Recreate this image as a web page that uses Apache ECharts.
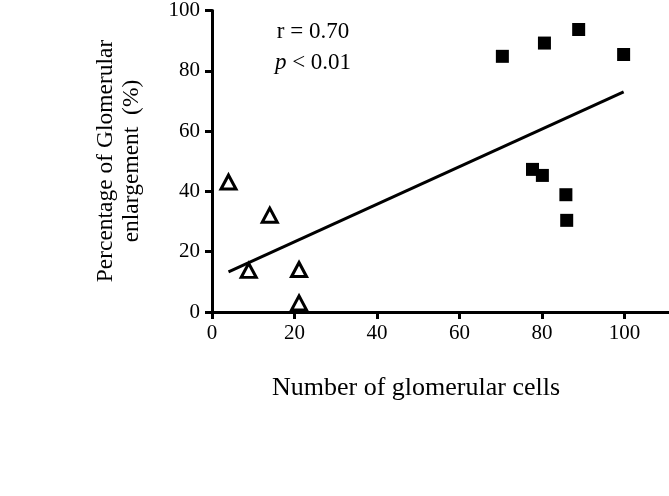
<!DOCTYPE html>
<html><head><meta charset="utf-8">
<script src="https://cdn.jsdelivr.net/npm/echarts@6/dist/echarts.min.js"></script>
<style>html,body{margin:0;padding:0;background:#fff}#c{width:669px;height:496px}</style>
</head><body><div id="c"></div>
<script>
var xTicks = [0, 20, 40, 60, 80, 100];
var yTicks = [0, 20, 40, 60, 80, 100];
var triangleX = [4.0, 8.9, 14.0, 21.1, 21.1];
var triangleY = [43.1, 13.8, 32.1, 14.1, 3.0];
var squareX = [70.4, 80.6, 88.9, 99.8, 77.7, 80.1, 85.8, 86.0];
var squareY = [84.8, 89.2, 93.7, 85.4, 47.3, 45.3, 38.9, 30.4];
var fitX = [4.0, 99.8];
var fitY = [13.3, 73.0];
var xTitle = 'Number of glomerular cells';
var yTitle = ['Percentage of Glomerular', 'enlargement  (%)'];

function zip(a, b) { return a.map(function (v, i) { return [v, b[i]]; }); }
var FONT = '"Liberation Serif", "Times New Roman", serif';
var chart = echarts.init(document.getElementById('c'), null, {renderer: 'canvas'});
chart.setOption({
  animation: false,
  backgroundColor: '#fff',
  grid: {left: 212, right: 0, top: 10, bottom: 184, containLabel: false},
  xAxis: {
    type: 'value', min: 0, max: 110.8,
    splitLine: {show: false},
    axisLine: {show: true, onZero: false, lineStyle: {color: '#000', width: 3}},
    axisTick: {show: true, length: 7, customValues: xTicks, lineStyle: {color: '#000', width: 3}},
    axisLabel: {customValues: xTicks, color: '#000', fontFamily: FONT, fontSize: 21, margin: 11}
  },
  yAxis: {
    type: 'value', min: 0, max: 100, interval: 20,
    splitLine: {show: false},
    axisLine: {show: true, onZero: false, lineStyle: {color: '#000', width: 3}},
    axisTick: {show: true, length: 7, customValues: yTicks, lineStyle: {color: '#000', width: 3}},
    axisLabel: {customValues: yTicks, color: '#000', fontFamily: FONT, fontSize: 21, margin: 12}
  },
  series: [
    {type: 'line', data: zip(fitX, fitY), showSymbol: false, symbol: 'none',
     lineStyle: {color: '#000', width: 3}, z: 2},
    {type: 'scatter', data: zip(triangleX, triangleY), symbol: 'triangle', symbolSize: [15, 14],
     itemStyle: {color: '#fff', borderColor: '#000', borderWidth: 3, opacity: 1}, z: 3},
    {type: 'scatter', data: zip(squareX, squareY), symbol: 'rect', symbolSize: 13,
     itemStyle: {color: '#000', opacity: 1}, z: 3}
  ],
  graphic: [
    {type: 'text', x: 313, y: 32, style: {text: 'r = 0.70', font: '23px ' + FONT, fill: '#000', align: 'center', verticalAlign: 'middle'}},
    {type: 'text', x: 313, y: 63, style: {
      text: '{i|p} < 0.01', font: '23px ' + FONT, fill: '#000', align: 'center', verticalAlign: 'middle',
      rich: {i: {fontStyle: 'italic', fontFamily: FONT, fontSize: 23, fill: '#000'}}}},
    {type: 'text', x: 416, y: 388, style: {text: xTitle, font: '26px ' + FONT, fill: '#000', align: 'center', verticalAlign: 'middle'}},
    {type: 'text', x: 119, y: 161, rotation: Math.PI / 2, style: {text: yTitle.join('\n'), font: '23.5px ' + FONT, lineHeight: 26, fill: '#000', align: 'center', verticalAlign: 'middle'}}
  ]
});
</script></body></html>
